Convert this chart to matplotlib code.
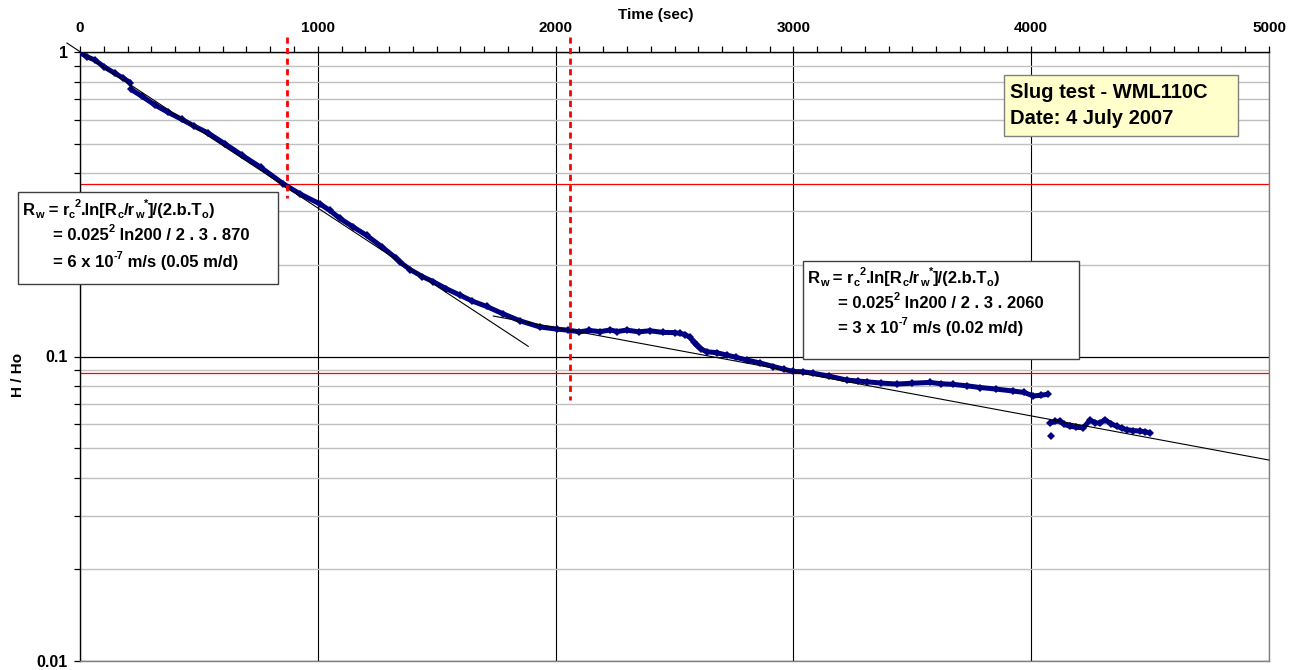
import numpy as np
import matplotlib
matplotlib.use("Agg")
import matplotlib.pyplot as plt
from matplotlib.patches import Rectangle
from matplotlib.ticker import LogLocator, FixedLocator, MultipleLocator, NullFormatter, FixedFormatter

plt.rcParams['font.family'] = ['Liberation Sans', 'DejaVu Sans']
plt.rcParams['font.weight'] = 'bold'

# Slug test record: elapsed time (s) and normalised head H/Ho (NaN separates logger segments)
time_s = [0, 30, 63, 100, 147, 180, 212, np.nan,
          214, 260, 315, 370, 428, 480, 540, 610, 680, 760, 855, 925, 1009, 1050,
          1093, 1150, 1205, 1270, 1330, 1346, 1388, 1440, 1486, 1540, 1598, 1650,
          1710, 1780, 1850, 1934, 2005, 2054, 2100, 2140, 2187, 2230, 2260, 2299,
          2350, 2397, 2450, 2500, 2523, 2545, 2565, 2580, 2593, 2610, 2635, 2680,
          2719, 2760, 2804, 2860, 2916, 2960, 3000, 3040, 3084, 3150, 3224, 3270,
          3308, 3370, 3434, 3500, 3574, 3620, 3672, 3730, 3785, 3850, 3925, 3970,
          4009, 4040, 4072, np.nan,
          4082, np.nan,
          4079, 4100, 4121, 4140, 4163, 4190, 4219, 4247, 4270, 4289, 4310, 4335,
          4359, 4380, 4401, 4430, 4458, 4480, 4500]
head_ratio = [0.995, 0.964, 0.941, 0.895, 0.851, 0.822, 0.793, np.nan,
              0.754, 0.716, 0.670, 0.634, 0.601, 0.571, 0.541, 0.499, 0.459, 0.418,
              0.369, 0.342, 0.317, 0.302, 0.284, 0.266, 0.250, 0.229, 0.210, 0.204,
              0.193, 0.183, 0.176, 0.167, 0.159, 0.152, 0.146, 0.138, 0.131, 0.125,
              0.123, 0.122, 0.1205, 0.1218, 0.1207, 0.1222, 0.1208, 0.1221, 0.1205,
              0.1215, 0.1200, 0.1198, 0.1191, 0.1180, 0.1156, 0.1120, 0.1088, 0.1060,
              0.1037, 0.1028, 0.1011, 0.0993, 0.0974, 0.0952, 0.0927, 0.0908, 0.0893,
              0.0891, 0.0881, 0.0862, 0.0837, 0.0831, 0.0826, 0.0818, 0.0812, 0.0817,
              0.0822, 0.0814, 0.0810, 0.0801, 0.0791, 0.0782, 0.0770, 0.0762, 0.0742,
              0.0746, 0.0752, np.nan,
              0.0547, np.nan,
              0.0604, 0.0612, 0.0613, 0.0598, 0.0590, 0.0586, 0.0583, 0.0618, 0.0606,
              0.0604, 0.0620, 0.0602, 0.0590, 0.0582, 0.0575, 0.0571, 0.0569, 0.0566,
              0.0561]

# Straight-line fits on the semi-log plot (start/end of each fitted line)
fit_early_t = [-55, 1885]
fit_early_h = [1.07, 0.108]
fit_late_t = [1738, 5000]
fit_late_h = [0.1358, 0.0457]

# Basic time lags and the 0.37 head levels
t0_values = [870, 2060]
t0_line_top = [1.12, 1.12]
t0_line_bottom = [0.332, 0.072]
h_levels = [0.368, 0.088]

x_ticks = [0, 1000, 2000, 3000, 4000, 5000]
x_tick_labels = ['0', '1000', '2000', '3000', '4000', '5000']
y_ticks = [0.01, 0.1, 1]
y_tick_labels = ['0.01', '0.1', '1']

W, H = 1302, 670
fig = plt.figure(figsize=(W / 100, H / 100), dpi=100)
ax = fig.add_axes([80 / W, 1 - 661 / H, (1269 - 80) / W, (661 - 52) / H])

ax.set_yscale('log')
ax.set_xlim(0, 5000)
ax.set_ylim(0.01, 1)

# axis styling
ax.xaxis.tick_top()
ax.xaxis.set_major_locator(FixedLocator(x_ticks))
ax.xaxis.set_major_formatter(FixedFormatter(x_tick_labels))
ax.xaxis.set_minor_locator(MultipleLocator(100))
ax.yaxis.set_major_locator(FixedLocator(y_ticks))
ax.yaxis.set_major_formatter(FixedFormatter(y_tick_labels))
ax.yaxis.set_minor_locator(LogLocator(base=10, subs=np.arange(2, 10)))
ax.yaxis.set_minor_formatter(NullFormatter())
ax.tick_params(axis='x', which='both', direction='out', length=4, width=0.9,
               top=True, bottom=False, labeltop=True, labelbottom=False, pad=8,
               labelsize=11)
ax.tick_params(axis='y', which='both', direction='out', length=4, width=0.9,
               pad=5, labelsize=11.5)

ax.spines['top'].set_color('black')
ax.spines['left'].set_color('black')
ax.spines['right'].set_color('#808080')
ax.spines['bottom'].set_color('#808080')
for s in ax.spines.values():
    s.set_linewidth(1.0)

# axis titles
fig.text(656 / W, 1 - 15 / H, 'Time (sec)', fontsize=11, fontweight='bold',
         ha='center', va='center')
fig.text(18 / W, 1 - 375 / H, 'H / Ho', fontsize=11, fontweight='bold',
         ha='center', va='center', rotation=90)

# grid
ax.yaxis.grid(True, which='minor', color='#c0c0c0', linewidth=1.0, zorder=0)
ax.yaxis.grid(True, which='major', color='black', linewidth=0.9, zorder=0)
ax.xaxis.grid(True, which='major', color='black', linewidth=0.8, zorder=0)
ax.xaxis.grid(False, which='minor')
ax.set_axisbelow(True)

# 0.37 head levels
for h in h_levels:
    ax.axhline(h, color='#ff0000', linewidth=0.9, zorder=1)

# measured data
ax.plot(time_s, head_ratio, color='#000080', linewidth=3.6, marker='D',
        markersize=3.8, markeredgewidth=0, zorder=3, solid_capstyle='butt')

# fitted lines
ax.plot(fit_early_t, fit_early_h, color='black', linewidth=0.8, zorder=4, clip_on=False)
ax.plot(fit_late_t, fit_late_h, color='black', linewidth=0.8, zorder=4, clip_on=False)

# basic time lag markers
for t, top, bot in zip(t0_values, t0_line_top, t0_line_bottom):
    ax.plot([t, t], [top, bot], color='#ff0000', linewidth=2.0,
            linestyle=(0, (2.2, 1.6)), zorder=5, clip_on=False)


def px_box(x0, y0, x1, y1, fc, ec):
    fig.add_artist(Rectangle((x0 / W, 1 - y1 / H), (x1 - x0) / W, (y1 - y0) / H,
                             transform=fig.transFigure, facecolor=fc,
                             edgecolor=ec, linewidth=1.0, zorder=6))


renderer = fig.canvas.get_renderer()


def rich_text(x, y_base, pieces, size=12):
    """Draw a run of normal / subscript / superscript pieces starting at pixel x."""
    for s, kind in pieces:
        fs = size if kind == 'n' else size * 0.66
        dy = {'n': 0, 'sub': 3, 'sup': -8}[kind]
        t = fig.text(x / W, 1 - (y_base + dy) / H, s, fontsize=fs,
                     fontweight='bold', ha='left', va='baseline', zorder=7)
        x += t.get_window_extent(renderer=renderer).width


formula = [('R', 'n'), ('w', 'sub'), (' = r', 'n'), ('c', 'sub'), ('2', 'sup'),
           ('.ln[R', 'n'), ('c', 'sub'), ('/r', 'n'), ('w', 'sub'), ('*', 'sup'),
           (']/(2.b.T', 'n'), ('o', 'sub'), (')', 'n')]

# title box
px_box(1004, 75, 1238, 136, '#ffffcc', '#808080')
fig.text(1010 / W, 1 - 98 / H, 'Slug test - WML110C', fontsize=14.5,
         fontweight='bold', ha='left', va='baseline', zorder=7)
fig.text(1010 / W, 1 - 124 / H, 'Date: 4 July 2007', fontsize=14.5,
         fontweight='bold', ha='left', va='baseline', zorder=7)

# early-time calculation
px_box(18, 192, 278, 284, 'white', '#404040')
rich_text(23, 215, formula)
rich_text(53, 240, [('= 0.025', 'n'), ('2', 'sup'), (' ln200 / 2 . 3 . 870', 'n')])
rich_text(53, 267, [('= 6 x 10', 'n'), ('-7', 'sup'), (' m/s (0.05 m/d)', 'n')])

# late-time calculation
px_box(803, 261, 1079, 359, 'white', '#404040')
rich_text(808, 283, formula)
rich_text(838, 308, [('= 0.025', 'n'), ('2', 'sup'), (' ln200 / 2 . 3 . 2060', 'n')])
rich_text(838, 333, [('= 3 x 10', 'n'), ('-7', 'sup'), (' m/s (0.02 m/d)', 'n')])

fig.savefig('out.png', dpi=100)
